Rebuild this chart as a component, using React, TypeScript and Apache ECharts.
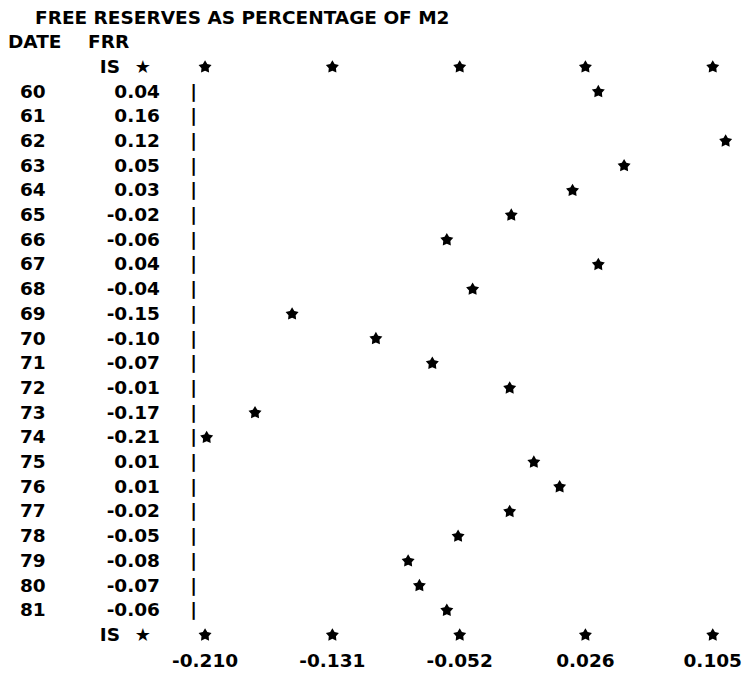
import React, { useEffect, useRef } from "react";
import * as echarts from "echarts";

// Dates (years) printed in the first column
const dates = ["60","61","62","63","64","65","66","67","68","69","70","71","72","73","74","75","76","77","78","79","80","81"];
// FRR values as printed in the second column
const frrPrinted = [0.04,0.16,0.12,0.05,0.03,-0.02,-0.06,0.04,-0.04,-0.15,-0.10,-0.07,-0.01,-0.17,-0.21,0.01,0.01,-0.02,-0.05,-0.08,-0.07,-0.06];
const frrPlotted = [0.034,0.16,0.113,0.050,0.018,-0.020,-0.060,0.034,-0.044,-0.156,-0.104,-0.069,-0.021,-0.179,-0.209,-0.006,0.010,-0.021,-0.053,-0.084,-0.077,-0.060];
// Scale marks and their printed labels
const xTicks = [-0.21, -0.131, -0.052, 0.026, 0.105];
const xTickLabels = ["-0.210", "-0.131", "-0.052", "0.026", "0.105"];

const FONT = "DejaVu Sans";
const STAR = "path://M0,-10 L3.23,-4.45 L9.51,-3.09 L5.23,1.70 L5.88,8.09 L0,5.5 L-5.88,8.09 L-5.23,1.70 L-9.51,-3.09 L-3.23,-4.45 Z";

export default function App() {
  const ref = useRef<HTMLDivElement>(null);
  useEffect(() => {
    document.body.style.margin = "0";
    const chart = echarts.init(ref.current!, null, { renderer: "svg" });
    const yCats = ["IS-top", ...dates, "IS-bottom"];
    const base = { fontFamily: FONT, fontWeight: "bold" as const, fontSize: 18.5, color: "#000" };
    const starStyle = { color: "#000", opacity: 1 };
    chart.setOption({
      animation: false,
      backgroundColor: "#fff",
      title: [
        { text: "FREE RESERVES AS PERCENTAGE OF M2", left: 35, top: 7, padding: 0, textStyle: { ...base, lineHeight: 20 } },
        { text: "DATE", left: 8, top: 31, padding: 0, textStyle: { ...base, lineHeight: 20 } },
        { text: "FRR", left: 88, top: 31, padding: 0, textStyle: { ...base, lineHeight: 20 } },
      ],
      grid: { left: 197, right: 10, top: 54, bottom: 30.2, containLabel: false },
      xAxis: {
        type: "value",
        min: -0.215,
        max: 0.1186,
        axisLine: { show: false },
        axisTick: { show: false },
        splitLine: { show: false },
        axisLabel: {
          customValues: xTicks,
          margin: 4,
          ...base,
          formatter: (v: number) => {
            let best = 0;
            xTicks.forEach((t, i) => { if (Math.abs(t - v) < Math.abs(xTicks[best] - v)) best = i; });
            return xTickLabels[best];
          },
        },
      },
      yAxis: {
        type: "category",
        inverse: true,
        data: yCats,
        axisLine: { show: false },
        axisTick: { show: false },
        splitLine: { show: false },
        axisLabel: {
          interval: 0,
          margin: 0,
          ...base,
          formatter: (_v: string, idx: number) => {
            if (idx === 0 || idx === yCats.length - 1) {
              return "{d| }{isl|IS}{ist|★}{ise| }";
            }
            const i = idx - 1;
            return `{d|${dates[i]}}{v|${frrPrinted[i].toFixed(2)}}{b||}`;
          },
          rich: {
            d: { ...base, width: 40, align: "left" },
            v: { ...base, width: 100, align: "right" },
            b: { ...base, width: 37, align: "right" },
            isl: { ...base, width: 60, align: "right" },
            ist: { fontFamily: FONT, fontSize: 18, color: "#000", width: 31, align: "right" },
            ise: { ...base, width: 46, align: "right" },
          },
        },
      },
      series: [
        {
          type: "scatter",
          name: "FRR",
          symbol: STAR,
          symbolSize: [13, 12.4],
          itemStyle: starStyle,
          data: frrPlotted.map((v, i) => [v, i + 1]),
        },
        {
          type: "scatter",
          name: "scale",
          symbol: STAR,
          symbolSize: [13, 12.4],
          itemStyle: starStyle,
          data: xTicks.flatMap((t) => [[t, 0], [t, yCats.length - 1]]),
        },
      ],
    });
    return () => chart.dispose();
  }, []);
  return <div ref={ref} style={{ width: 745, height: 677 }} />;
}
